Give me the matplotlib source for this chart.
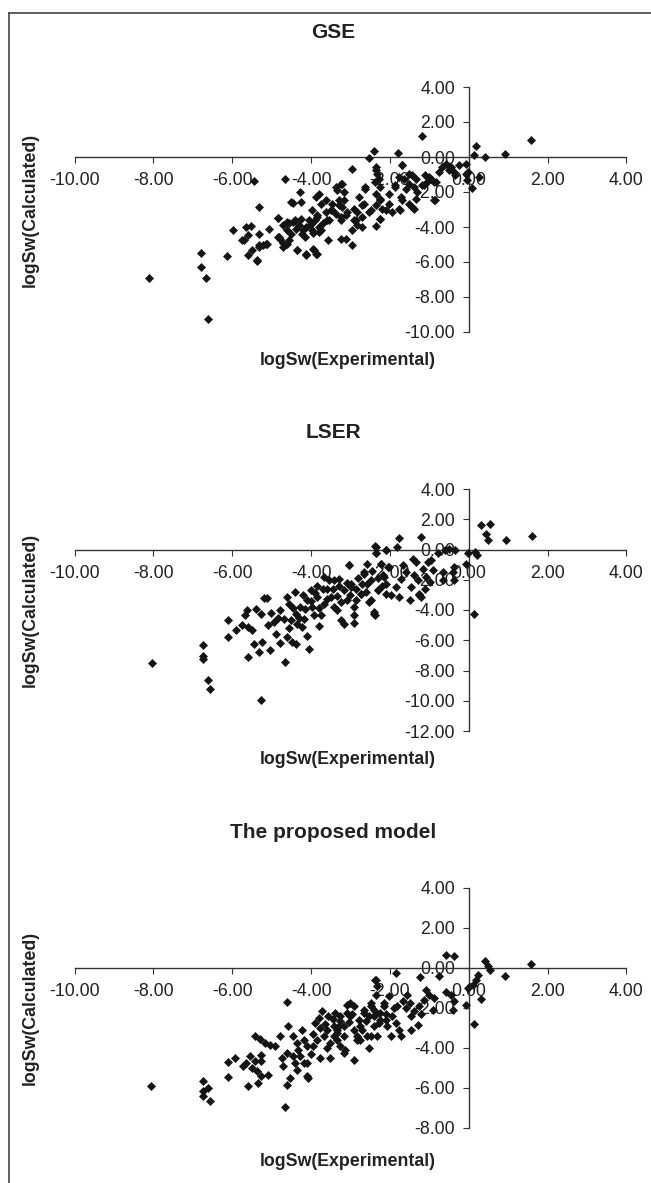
import matplotlib
matplotlib.use("Agg")
import matplotlib.pyplot as plt
from matplotlib.ticker import FormatStrFormatter, FixedLocator
from matplotlib.lines import Line2D

plt.rcParams['font.family'] = ['Liberation Sans', 'DejaVu Sans']
plt.rcParams['axes.unicode_minus'] = False

# ---------------- data ----------------
titles = ["GSE", "LSER", "The proposed model"]
x_label = "logSw(Experimental)"
y_label = "logSw(Calculated)"
x_ticks = [-10, -8, -6, -4, -2, 0, 2, 4]
y_ticks_gse = [4, 2, 0, -2, -4, -6, -8, -10]
y_ticks_lser = [4, 2, 0, -2, -4, -6, -8, -10, -12]
y_ticks_prop = [4, 2, 0, -2, -4, -6, -8]

gse_pts = [
    (-8.1, -6.89), (-6.79, -5.49), (-6.79, -6.29), (-6.66, -6.89), (-6.62, -9.24),
    (-6.13, -5.66), (-5.97, -4.19), (-5.44, -1.39), (-5.32, -2.86), (-5.65, -4.0),
    (-5.53, -3.96), (-5.7, -4.76), (-5.61, -4.47), (-5.32, -4.42), (-5.06, -4.09),
    (-5.61, -5.62), (-5.49, -5.33), (-5.38, -5.96), (-5.32, -5.05), (-5.23, -5.05),
    (-5.11, -4.95), (-4.84, -3.46), (-4.84, -4.57), (-4.66, -1.24), (-4.6, -3.71),
    (-4.45, -2.63), (-4.35, -5.29), (-4.28, -2.0), (-4.13, -5.62), (-3.96, -5.24),
    (-3.84, -5.56), (-3.56, -4.76), (-3.8, -2.1), (-3.63, -2.47), (-3.38, -1.71),
    (-3.21, -1.52), (-2.95, -0.66), (-3.25, -4.66), (-3.12, -4.66), (-2.95, -5.05),
    (-2.95, -4.19), (-4.78, -4.7), (-4.7, -4.9), (-4.62, -5.0), (-4.55, -4.75),
    (-4.72, -5.15), (-4.3, -3.9), (-4.2, -4.2), (-4.15, -4.55), (-4.0, -3.85),
    (-3.9, -3.6), (-3.95, -4.35), (-3.75, -4.15), (-3.7, -3.75),
    (-1.18, 1.18), (-2.4, 0.33), (-2.53, -0.06), (-1.8, 0.25), (-1.69, -0.44),
    (-2.36, -0.57), (-2.32, -0.95), (0.19, 0.63), (0.13, 0.14), (0.41, 0.0),
    (0.93, 0.15), (1.58, 0.95), (-0.08, -0.38), (-0.02, -0.86), (-0.04, -1.33),
    (0.08, -1.77), (0.25, -1.14), (-0.59, -0.38), (-0.46, -0.57), (-0.38, -0.86),
    (-0.34, -1.05), (-0.76, -0.86), (-0.89, -2.47), (-1.1, -1.05), (-1.06, -1.43),
    (-0.97, -1.24), (-0.89, -1.43), (-1.14, -1.62), (-1.43, -1.05), (-1.52, -1.52),
    (-1.39, -1.71), (-1.31, -2.0), (-1.35, -2.38), (-1.43, -2.86), (-1.52, -2.66),
    (-1.69, -2.47), (-1.77, -2.95), (-1.77, -1.14), (-1.65, -1.24), (-1.86, -1.62),
    (-1.6, -1.81), (-2.35, -0.76), (-2.28, -1.24), (-2.38, -1.43), (-2.24, -1.71),
    (-2.36, -2.09), (-2.24, -2.47), (-2.36, -2.76), (-2.49, -3.05), (-2.24, -3.52),
    (-2.36, -3.96), (-2.11, -3.05), (-2.03, -2.66), (-2.62, -1.81), (-2.78, -2.28),
    (-2.66, -2.66), (-2.83, -3.14), (-2.7, -3.43), (-2.91, -3.62), (-2.83, -3.9),
    (-3.25, -1.52), (-3.33, -1.9), (-3.16, -2.0), (-3.29, -2.47), (-3.46, -2.66),
    (-3.21, -2.86), (-3.38, -3.24), (-3.5, -3.05), (-3.59, -3.62), (-3.25, -3.62),
    (-3.12, -3.33), (-3.88, -2.28), (-3.75, -2.66), (-3.97, -3.05), (-3.84, -3.43),
    (-4.05, -3.62), (-4.14, -4.0), (-4.22, -4.38), (-3.8, -4.0), (-3.97, -4.19),
    (-3.92, -5.33), (-4.14, -5.52), (-3.88, -5.52),
    (-4.7, -3.9), (-4.6, -4.2), (-4.5, -4.4), (-4.55, -3.8), (-4.4, -3.6),
    (-2.26, -3.52), (-1.75, -3.05), (-1.39, -2.95), (-0.86, -2.47), (-1.69, -0.47),
    (-2.62, -1.71), (-4.51, -2.57), (-4.26, -2.57), (-4.83, -3.46), (-5.15, -4.95),
    (-4.47, -3.71), (-4.39, -4.09), (-4.26, -3.52), (-4.01, -3.81), (-3.84, -3.33),
    (-3.8, -4.29), (-3.63, -3.14), (-3.54, -3.62), (-3.46, -3.05), (-3.29, -2.76),
    (-3.25, -3.43), (-3.16, -2.47), (-3.08, -3.14), (-2.91, -2.95), (-2.87, -3.62),
    (-2.7, -2.76), (-2.7, -4.0), (-2.53, -3.14), (-2.24, -2.38), (-2.19, -2.95),
    (-2.03, -2.09), (-1.94, -3.14), (-1.86, -1.71), (-1.73, -2.29), (-1.52, -0.95),
    (-1.35, -1.24), (-1.18, -1.62), (-1.01, -1.14), (-0.84, -1.43), (-0.68, -0.57),
    (-0.51, -0.76), (-0.25, -0.48), (-0.08, -0.95), (-5.37, -5.9), (-5.74, -4.76),
    (-5.32, -5.14), (-4.81, -4.57), (-4.35, -5.33),
]

lser_pts = [
    (-8.04, -7.5), (-6.73, -6.34), (-6.73, -7.05), (-6.74, -7.25), (-6.61, -8.66),
    (-6.56, -9.2), (-5.26, -9.98), (-6.1, -4.68), (-6.1, -5.79), (-5.9, -5.34),
    (-5.59, -7.11), (-5.33, -6.78), (-5.46, -6.23), (-5.25, -6.12), (-5.05, -6.62),
    (-5.2, -3.18), (-5.13, -3.18), (-5.39, -3.91), (-5.63, -4.02), (-5.67, -4.35),
    (-5.76, -5.01), (-5.59, -5.13), (-5.5, -5.34), (-5.27, -4.24), (-5.02, -4.2),
    (-4.89, -5.56), (-4.78, -6.19), (-4.61, -5.79), (-4.48, -6.12), (-4.39, -6.23),
    (-4.65, -7.44), (-4.06, -6.6), (-4.1, -5.74), (-3.8, -5.08), (-4.42, -2.81),
    (-3.23, -4.68), (-2.92, -4.86), (-3.03, -1.04), (-2.35, 0.17), (-2.1, -0.05),
    (-2.35, -0.26), (-2.4, -4.13), (-2.38, -4.3), (-2.23, -0.93),
    (-4.78, -4.02), (-4.61, -3.14), (-4.57, -3.58), (-4.69, -4.57), (-4.52, -4.68),
    (-4.39, -4.24), (-4.35, -4.9), (-4.22, -5.13), (-4.18, -4.57), (-4.27, -3.8),
    (-4.1, -3.36), (-3.97, -3.8), (-3.93, -4.35), (-3.84, -3.14), (-3.71, -2.58),
    (-3.67, -3.58), (-3.5, -3.14), (-3.55, -2.03), (-3.42, -3.8), (-3.29, -1.92),
    (-3.16, -2.7), (-3.08, -3.36), (-2.99, -2.25), (-2.91, -3.8), (-2.74, -2.91),
    (-2.65, -1.59), (-2.57, -2.25), (-2.48, -3.36), (-2.31, -2.7), (-2.14, -1.81),
    (-2.06, -1.15), (-2.1, -2.91), (-3.67, -1.81),
    (-2.38, 0.22), (-2.36, -0.22), (-2.1, 0.0), (-1.82, 0.17), (-1.76, 0.79),
    (-1.22, 0.83), (-0.61, 0.0), (-0.36, 0.0), (-0.5, 0.05), (-0.03, -0.22),
    (0.16, -0.16), (0.2, -0.38), (-0.06, -0.93), (0.14, -4.28), (0.3, 1.61),
    (0.54, 1.68), (0.43, 1.01), (0.48, 0.62), (0.94, 0.62), (1.6, 0.88),
    (-0.37, -1.15), (-0.37, -2.03), (-0.4, -1.48), (-0.65, -1.5), (-0.65, -2.0),
    (-0.78, -0.26), (-0.95, -0.71), (-1.03, -0.82), (-0.91, -1.37), (-1.08, -1.81),
    (-0.99, -2.15), (-1.12, -2.58), (-1.25, -2.91), (-1.21, -3.14),
    (-3.42, -2.03), (-3.33, -4.02), (-3.16, -4.9), (-3.04, -1.04), (-2.99, -2.48),
    (-2.91, -4.35), (-2.87, -3.36), (-2.74, -2.91), (-2.65, -1.48), (-2.57, -0.93),
    (-2.48, -2.03), (-2.53, -3.47), (-2.4, -4.24), (-2.31, -2.7), (-2.23, -0.93),
    (-2.18, -1.7), (-2.1, -2.25), (-2.02, -1.15), (-1.97, -3.03), (-1.84, -2.48),
    (-1.76, -3.14), (-1.72, -1.92), (-1.67, -1.04), (-1.59, -1.48), (-1.5, -3.31),
    (-1.46, -2.48), (-1.42, -0.6), (-1.33, -0.82), (-1.38, -1.7), (-1.29, -2.03),
    (-1.25, -3.03), (-1.16, -1.26),
    (-4.45, -3.9), (-4.3, -4.5), (-4.15, -3.95), (-4.0, -3.4), (-3.9, -2.9),
    (-3.8, -3.9), (-3.75, -4.3), (-3.6, -3.3), (-3.45, -2.6), (-3.35, -3.1),
    (-3.25, -3.5), (-3.1, -2.2), (-3.0, -3.0), (-2.85, -2.6), (-2.8, -1.9),
    (-2.7, -2.3), (-2.6, -2.8), (-2.45, -1.4), (-2.3, -1.9), (-2.2, -2.4),
    (-4.55, -5.2), (-4.85, -4.5), (-4.95, -4.8), (-5.1, -5.0), (-4.0, -2.7),
    (-3.85, -2.4), (-3.6, -2.6), (-3.3, -2.4), (-4.2, -3.0),
]

prop_pts = [
    (-8.05, -5.92), (-6.74, -5.64), (-6.74, -6.17), (-6.62, -6.0), (-6.74, -6.42),
    (-6.57, -6.67), (-6.1, -4.7), (-5.93, -4.5), (-6.1, -5.47), (-5.6, -5.92),
    (-5.72, -4.92), (-5.64, -4.75), (-5.55, -4.42), (-5.51, -5.0), (-5.43, -4.67),
    (-5.38, -5.17), (-5.26, -4.34), (-5.26, -4.67), (-5.34, -5.75), (-5.26, -5.42),
    (-5.09, -5.34), (-5.43, -3.39), (-5.3, -3.55), (-5.17, -3.75), (-5.04, -3.84),
    (-4.92, -3.92), (-4.79, -3.42), (-4.62, -1.72), (-4.58, -2.89), (-4.66, -6.97),
    (-4.62, -5.84), (-4.53, -5.5), (-4.74, -4.5), (-4.7, -4.92), (-4.62, -4.25),
    (-4.45, -4.42), (-4.41, -4.75), (-4.36, -5.09), (-4.32, -4.09), (-4.19, -4.75),
    (-4.11, -5.42), (-4.07, -5.5), (-4.45, -3.42), (-4.36, -3.75), (-4.23, -3.09),
    (-4.19, -3.59), (-4.11, -3.92), (-4.11, -4.75),
    (-3.94, -3.92), (-3.85, -3.59), (-3.9, -2.75), (-3.77, -3.0), (-3.73, -2.17),
    (-3.68, -3.42), (-3.6, -3.09), (-3.56, -2.42), (-3.51, -3.75), (-3.43, -2.92),
    (-3.39, -2.25), (-3.34, -3.25), (-3.26, -2.67), (-3.17, -3.42), (-3.13, -4.09),
    (-3.09, -1.84), (-3.0, -2.42), (-2.92, -3.09), (-2.83, -3.59), (-2.75, -2.92),
    (-2.66, -2.25), (-2.58, -3.42), (-2.49, -1.92), (-2.41, -2.42), (-2.32, -3.42),
    (-2.24, -2.59), (-2.15, -1.92), (-2.07, -2.92), (-2.54, -4.0), (-2.9, -4.62),
    (-3.51, -4.5), (-3.77, -4.5), (-2.36, -0.59), (-2.32, -0.92),
    (-0.58, 0.67), (-0.38, 0.58), (-1.84, -0.25), (-1.23, -0.47), (-0.75, -0.42),
    (0.42, 0.37), (0.48, 0.08), (0.55, -0.08), (0.93, -0.39), (1.59, 0.22),
    (0.23, -0.34), (0.19, -0.59), (0.1, -0.84), (-0.03, -1.0), (-0.07, -1.84),
    (0.3, -1.55), (0.13, -2.8), (-0.58, -1.22), (-0.45, -1.34), (-0.37, -1.67),
    (-0.41, -2.09), (-2.39, -0.59), (-2.36, -1.34), (-1.09, -1.09), (-1.0, -1.34),
    (-0.88, -1.5), (-0.92, -2.09), (-1.13, -1.59), (-1.26, -1.92), (-1.39, -2.17),
    (-1.47, -2.42), (-1.3, -2.84), (-1.47, -3.09), (-1.73, -3.42), (-1.98, -3.42),
    (-1.77, -3.09), (-1.94, -2.42), (-1.81, -1.92), (-1.68, -1.67), (-1.56, -1.34),
    (-2.03, -1.42), (-2.15, -1.75), (-2.24, -2.25), (-2.28, -2.75), (-2.41, -2.09),
    (-2.49, -1.75), (-2.54, -2.42), (-2.66, -2.09), (-2.7, -3.09), (-2.49, -3.42),
    (-2.41, -2.92), (-2.79, -2.59), (-2.92, -1.92), (-3.0, -1.75), (-3.09, -2.25),
    (-3.17, -2.92), (-3.26, -2.42), (-3.34, -3.09), (-3.43, -3.42), (-2.83, -3.42),
    (-2.75, -3.59), (-3.17, -4.25), (-3.26, -3.92),
    (-3.95, -3.3), (-3.8, -2.5), (-3.65, -2.8), (-3.45, -2.55), (-3.3, -2.9),
    (-3.05, -2.7), (-2.95, -2.3), (-2.6, -2.65), (-2.35, -2.3), (-2.1, -2.3),
    (-1.9, -2.0), (-1.6, -2.0), (-1.5, -1.75), (-1.2, -2.3), (-4.0, -4.3),
    (-4.28, -4.4), (-3.6, -4.0), (-3.35, -3.6), (-2.1, -2.6), (-1.85, -2.75),
]

gse_x = [p[0] for p in gse_pts]
gse_y = [p[1] for p in gse_pts]
lser_x = [p[0] for p in lser_pts]
lser_y = [p[1] for p in lser_pts]
prop_x = [p[0] for p in prop_pts]
prop_y = [p[1] for p in prop_pts]

# ---------------- layout ----------------
W, H = 651, 1183
fig = plt.figure(figsize=(W / 100, H / 100), dpi=100)
fig.patch.set_facecolor("white")

TXT = "#222222"
AX = "#333333"

panels = [
    dict(title=titles[0], x=gse_x, y=gse_y, yt=y_ticks_gse, top=87, bot=332, title_y=33, xl_y=360),
    dict(title=titles[1], x=lser_x, y=lser_y, yt=y_ticks_lser, top=489, bot=731, title_y=433, xl_y=760),
    dict(title=titles[2], x=prop_x, y=prop_y, yt=y_ticks_prop, top=888, bot=1128, title_y=833, xl_y=1161),
]
left_px, right_px = 74.5, 626.5

for p in panels:
    ax = fig.add_axes([left_px / W, 1 - p["bot"] / H, (right_px - left_px) / W, (p["bot"] - p["top"]) / H])
    ax.set_facecolor("none")
    ax.plot(p["x"], p["y"], linestyle="none", marker="D", markersize=4.1,
            color="#141414", markeredgewidth=0.5, zorder=3, clip_on=False)
    ax.set_xlim(min(x_ticks), max(x_ticks))
    ax.set_ylim(min(p["yt"]), max(p["yt"]))
    ax.spines["top"].set_visible(False)
    ax.spines["right"].set_visible(False)
    ax.spines["left"].set_position(("data", 0))
    ax.spines["bottom"].set_position(("data", 0))
    for s in ("left", "bottom"):
        ax.spines[s].set_color(AX)
        ax.spines[s].set_linewidth(1.0)
    ax.xaxis.set_major_locator(FixedLocator(x_ticks))
    ax.yaxis.set_major_locator(FixedLocator(p["yt"]))
    ax.xaxis.set_major_formatter(FormatStrFormatter("%.2f"))
    ax.yaxis.set_major_formatter(FormatStrFormatter("%.2f"))
    ax.tick_params(axis="x", direction="out", length=4.3, width=0.8, color=AX,
                   labelsize=12.8, labelcolor=TXT, pad=6.5)
    ax.tick_params(axis="y", direction="out", length=4.3, width=0.8, color=AX,
                   labelsize=12.8, labelcolor=TXT, pad=5.5)
    fig.text(333 / W, 1 - p["title_y"] / H, p["title"], ha="center", va="center",
             fontsize=15, fontweight="bold", color=TXT)
    fig.text(348 / W, 1 - p["xl_y"] / H, x_label, ha="center", va="center",
             fontsize=12.8, fontweight="bold", color=TXT)
    fig.text(30 / W, 1 - (p["top"] + p["bot"]) / 2 / H, y_label, ha="center", va="center",
             rotation=90, fontsize=12.8, fontweight="bold", color=TXT)

# chart-area border (left and top edges visible)
fig.add_artist(Line2D([9 / W, 9 / W], [0, 1 - 13 / H], color="#444444", linewidth=1.2))
fig.add_artist(Line2D([9 / W, 1], [1 - 13 / H, 1 - 13 / H], color="#444444", linewidth=1.2))

fig.savefig("out.png", dpi=100)
